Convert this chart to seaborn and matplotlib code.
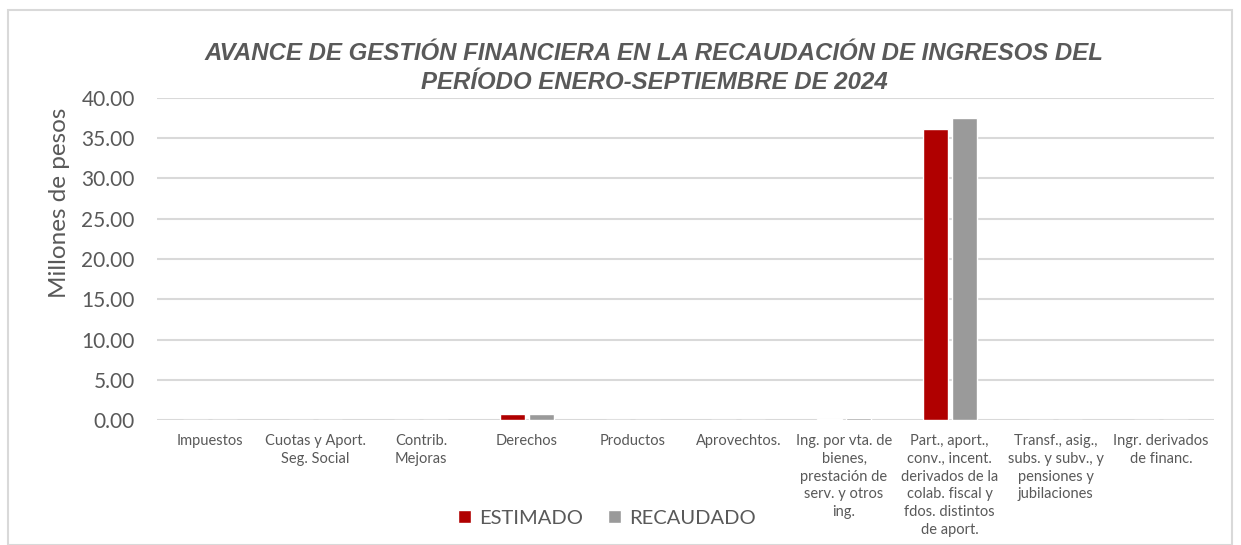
import numpy as np
import pandas as pd
import seaborn as sns
import matplotlib.pyplot as plt
from matplotlib.patches import Rectangle

categories = [
    "Impuestos",
    "Cuotas y Aport.\nSeg. Social",
    "Contrib.\nMejoras",
    "Derechos",
    "Productos",
    "Aprovechtos.",
    "Ing. por vta. de\nbienes,\nprestación de\nserv. y otros\ning.",
    "Part., aport.,\nconv., incent.\nderivados de la\ncolab. fiscal y\nfdos. distintos\nde aport.",
    "Transf., asig.,\nsubs. y subv., y\npensiones y\njubilaciones",
    "Ingr. derivados\nde financ.",
]
estimado = [0.0, 0.0, 0.0, 0.75, 0.0, 0.0, 0.12, 36.15, 0.0, 0.0]
recaudado = [0.0, 0.0, 0.0, 0.80, 0.0, 0.0, 0.25, 37.5, 0.0, 0.0]
series = ["ESTIMADO", "RECAUDADO"]
colors = ["#B00000", "#9A9A9A"]

df = pd.DataFrame({
    "categoria": categories * 2,
    "serie": [series[0]] * len(categories) + [series[1]] * len(categories),
    "valor": estimado + recaudado,
})

sns.set_theme(style="white")
plt.rcParams["font.family"] = ["Lato", "DejaVu Sans"]

fig = plt.figure(figsize=(12.41, 5.45), dpi=100)
fig.patches.append(Rectangle((8 / 1241, 0), (1232 - 8) / 1241, 1 - 10 / 545,
                             transform=fig.transFigure, fill=False,
                             edgecolor="#d9d9d9", linewidth=1.5))
ax = fig.add_axes([157 / 1241, 1 - 420 / 545, (1214 - 157) / 1241, (420 - 98) / 545])

sns.barplot(
    data=df,
    x="categoria",
    y="valor",
    hue="serie",
    palette=colors,
    width=0.55,
    gap=0.15,
    saturation=1,
    ax=ax,
)

ax.set_ylim(0, 40)
ax.set_yticks(np.arange(0, 41, 5))
ax.set_yticklabels([f"{v:.2f}" for v in np.arange(0, 41, 5)], fontsize=15, color="#595959")
ax.set_xlim(-0.5, len(categories) - 0.5)
ax.tick_params(axis="x", labelsize=10.5, colors="#595959", length=0, pad=10)
ax.tick_params(axis="y", length=0, pad=16)
for lbl in ax.get_xticklabels():
    lbl.set_verticalalignment("top")
    lbl.set_linespacing(1.35)
ax.grid(axis="y", color="#d9d9d9", linewidth=1.5)
ax.set_axisbelow(True)
for s in ax.spines.values():
    s.set_visible(False)
ax.set_xlabel("")
ax.set_ylabel("Millones de pesos", fontsize=17.5, color="#595959")
ax.yaxis.set_label_coords((70 - 157) / 1057, (420 - 203) / 322)

ax.legend(
    loc="center",
    bbox_to_anchor=(607 / 1241, 1 - 518 / 545),
    bbox_transform=fig.transFigure,
    ncol=2,
    frameon=False,
    fontsize=14.5,
    labelcolor="#595959",
    handlelength=0.65,
    handleheight=0.65,
    handletextpad=0.4,
    columnspacing=1.25,
)

fig.text(
    654 / 1241, 1 - 68 / 545,
    "AVANCE DE GESTIÓN FINANCIERA EN LA RECAUDACIÓN DE INGRESOS DEL\nPERÍODO ENERO-SEPTIEMBRE DE 2024",
    ha="center", va="center", fontsize=17.3, fontweight="bold", fontstyle="italic",
    color="#595959", family=["Liberation Sans", "DejaVu Sans"], linespacing=1.35,
)

fig.savefig("out.png", dpi=100)
